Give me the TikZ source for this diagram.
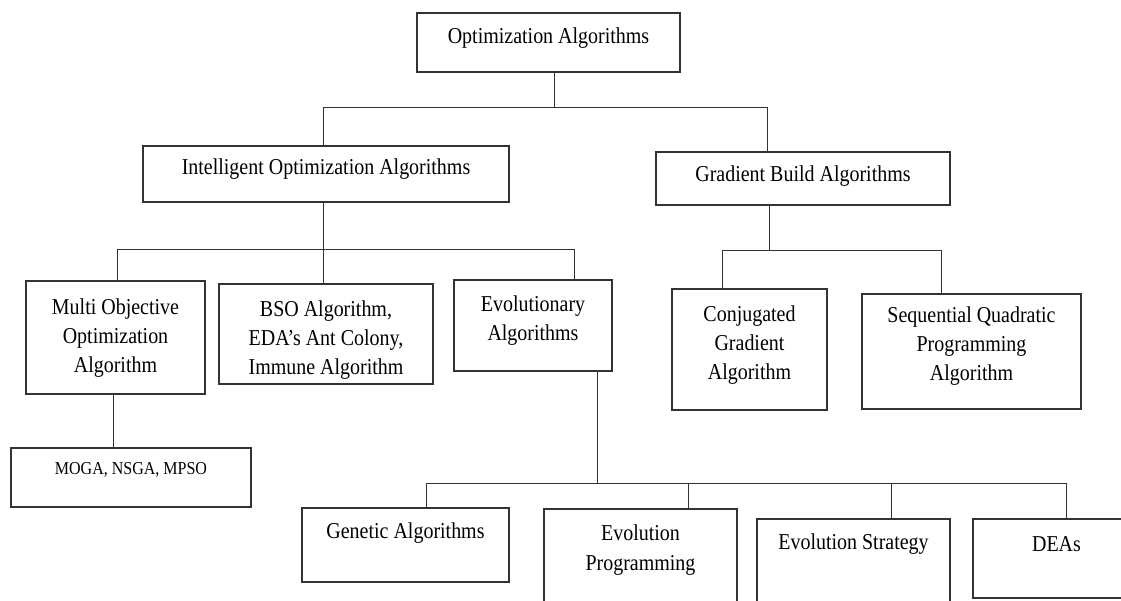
\documentclass[tikz,border=0pt]{standalone}
\usepackage{fontspec}
\setmainfont{Liberation Serif}[FakeStretch=0.88]
\begin{document}
\begin{tikzpicture}[x=1pt,y=-1pt]
    \tikzstyle{blk}=[draw=black!80,line width=1.1pt,inner sep=0pt,outer sep=0pt,anchor=north west,align=center,font=\fontsize{22.7}{29}\selectfont]
    \tikzstyle{wire}=[draw=black!80,line width=1pt]
    \clip (0,0) rectangle (1121,601);
    \fill[white] (0,0) rectangle (1121,601);
    % boxes
    \node[blk,minimum width=263,text height=31,text depth=28] (opt) at (417,13) {Optimization Algorithms};
    \node[blk,minimum width=366,text height=29,text depth=27] (intel) at (143,146) {Intelligent Optimization Algorithms};
    \node[blk,minimum width=294,text height=30,text depth=23] (grad) at (656,152) {Gradient Build Algorithms};
    \node[blk,minimum width=179,text height=91,text depth=22] (multi) at (26,281) {Multi Objective\\Optimization\\Algorithm};
    \node[blk,minimum width=214,text height=90,text depth=10] (bso) at (219,284) {BSO Algorithm,\\EDA's Ant Colony,\\Immune Algorithm};
    \node[blk,minimum width=158,text height=61,text depth=30] (evol) at (454,280) {Evolutionary\\Algorithms};
    \node[blk,minimum width=155,text height=90,text depth=31] (conj) at (672,289) {Conjugated\\Gradient\\Algorithm};
    \node[blk,minimum width=219,text height=86,text depth=29] (sqp) at (862,294) {Sequential Quadratic\\Programming\\Algorithm};
    \node[blk,minimum width=240,text height=26,text depth=33,font=\fontsize{18.2}{22}\selectfont] (moga) at (11,448) {MOGA, NSGA, MPSO};
    \node[blk,minimum width=207,text height=30,text depth=44] (gen) at (302,508) {Genetic Algorithms};
    \node[blk,minimum width=193,text height=61,text depth=70,font=\fontsize{22.7}{30}\selectfont] (evp) at (544,509) {Evolution\\Programming};
    \node[blk,minimum width=193,text height=30,text depth=91] (evs) at (757,519) {Evolution Strategy};
    \node[blk,minimum width=167,text height=32,text depth=47] (dea) at (973,519) {DEAs};
    % bus points
    \coordinate (b1) at (554,108);
    \coordinate (b1l) at (323,108);
    \coordinate (b1r) at (767,108);
    \coordinate (b2) at (323,250);
    \coordinate (b2l) at (117,250);
    \coordinate (b2r) at (574,250);
    \coordinate (b3) at (113,420);
    \coordinate (b4) at (769,251);
    \coordinate (b4l) at (722,251);
    \coordinate (b4r) at (941,251);
    \coordinate (b5) at (597,483);
    \coordinate (b5l) at (426,483);
    \coordinate (b5a) at (688,483);
    \coordinate (b5b) at (891,483);
    \coordinate (b5r) at (1066,483);
    % connectors
    \draw[wire] (opt.south -| b1) -- (b1);
    \draw[wire] (intel.north -| b1l) -- (b1l) -- (b1r) -- (grad.north -| b1r);
    \draw[wire] (intel.south -| b2) -- (b2);
    \draw[wire] (multi.north -| b2l) -- (b2l) -- (b2r) -- (evol.north -| b2r);
    \draw[wire] (bso.north -| b2) -- (b2);
    \draw[wire] (multi.south -| b3) -- (moga.north -| b3);
    \draw[wire] (grad.south -| b4) -- (b4);
    \draw[wire] (conj.north -| b4l) -- (b4l) -- (b4r) -- (sqp.north -| b4r);
    \draw[wire] (evol.south -| b5) -- (b5);
    \draw[wire] (gen.north -| b5l) -- (b5l) -- (b5r) -- (dea.north -| b5r);
    \draw[wire] (evp.north -| b5a) -- (b5a);
    \draw[wire] (evs.north -| b5b) -- (b5b);
\end{tikzpicture}
\end{document}
